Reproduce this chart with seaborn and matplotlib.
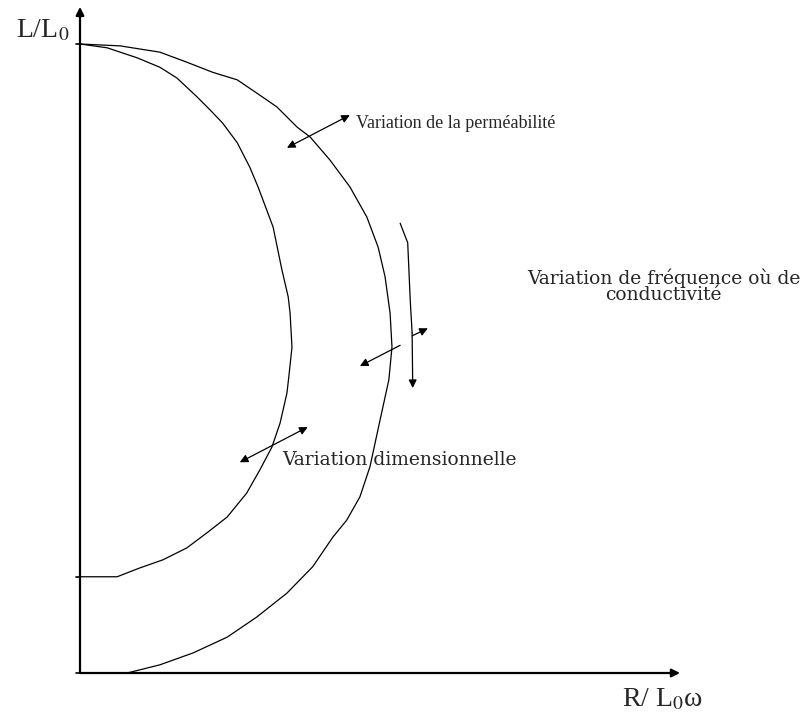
import numpy as np
import pandas as pd
import seaborn as sns
import matplotlib.pyplot as plt

# courbes (R/L0w, L/L0)
inner_x = [0, 0.043, 0.091, 0.127, 0.154, 0.186, 0.207, 0.227, 0.250, 0.270, 0.283,
           0.307, 0.321, 0.331, 0.334, 0.337, 0.332, 0.329, 0.318, 0.305, 0.286,
           0.265, 0.234, 0.202, 0.170, 0.132, 0.095, 0.059, 0]
inner_y = [1.000, 0.994, 0.978, 0.963, 0.946, 0.916, 0.895, 0.874, 0.843, 0.804, 0.773,
           0.709, 0.641, 0.598, 0.572, 0.518, 0.471, 0.445, 0.397, 0.359, 0.323,
           0.286, 0.248, 0.223, 0.199, 0.180, 0.167, 0.153, 0.153]

outer_x = [0, 0.064, 0.127, 0.170, 0.211, 0.250, 0.281, 0.313, 0.345, 0.366, 0.397,
           0.429, 0.456, 0.474, 0.485, 0.493, 0.496, 0.491, 0.477, 0.461, 0.445,
           0.424, 0.402, 0.370, 0.329, 0.281, 0.234, 0.180, 0.127, 0.075]
outer_y = [1.000, 0.997, 0.987, 0.971, 0.955, 0.943, 0.922, 0.900, 0.868, 0.852, 0.816,
           0.773, 0.725, 0.677, 0.630, 0.572, 0.518, 0.466, 0.402, 0.328, 0.280,
           0.243, 0.216, 0.169, 0.127, 0.089, 0.057, 0.032, 0.013, 0.000]

# trait de la variation de fréquence
freq_x = [0.509, 0.521, 0.525, 0.528, 0.529]
freq_y = [0.715, 0.684, 0.593, 0.541, 0.453]

# flèches (départ, arrivée)
perm_arrow = [(0.329, 0.835), (0.429, 0.887)]
dim_arrow = [(0.254, 0.335), (0.362, 0.391)]
cond_arrow = [(0.509, 0.521), (0.445, 0.488)]
small_arrow = [(0.528, 0.536), (0.553, 0.548)]

ticks_y = [1.0, 0.153, 0.0]
x_end = 0.954
y_end = 1.059

df_in = pd.DataFrame({"x": inner_x, "y": inner_y})
df_out = pd.DataFrame({"x": outer_x, "y": outer_y})
df_freq = pd.DataFrame({"x": freq_x[:-1], "y": freq_y[:-1]})

sns.set_style("white")
plt.rcParams["mathtext.fontset"] = "stix"

fig = plt.figure(figsize=(8.1, 7.15), dpi=100)
ax = fig.add_axes([0, 0, 1, 1])
ax.set_xlim(-80 / 629, 730 / 629)
ax.set_ylim(-42 / 629, 673 / 629)
ax.axis("off")

for d in (df_in, df_out, df_freq):
    sns.lineplot(data=d, x="x", y="y", sort=False, estimator=None,
                 color="black", lw=0.9, ax=ax)

head = dict(color="black", lw=0.9, shrinkA=0, shrinkB=0, mutation_scale=12)

# axes avec flèches
ax.annotate("", xy=(x_end, 0), xytext=(0, 0),
            arrowprops=dict(arrowstyle="-|>", **{**head, "lw": 1.6}))
ax.annotate("", xy=(0, y_end), xytext=(0, 0),
            arrowprops=dict(arrowstyle="-|>", **{**head, "lw": 1.6}))
for t in ticks_y:
    ax.plot([-0.006, 0], [t, t], color="black", lw=1.2)

ax.annotate("", xy=(freq_x[-1], freq_y[-1]), xytext=(freq_x[-2], freq_y[-2]),
            arrowprops=dict(arrowstyle="-|>", **head))
ax.annotate("", xy=perm_arrow[1], xytext=perm_arrow[0],
            arrowprops=dict(arrowstyle="<|-|>", **head))
ax.annotate("", xy=dim_arrow[1], xytext=dim_arrow[0],
            arrowprops=dict(arrowstyle="<|-|>", **head))
ax.annotate("", xy=cond_arrow[1], xytext=cond_arrow[0],
            arrowprops=dict(arrowstyle="-|>", **head))
ax.annotate("", xy=small_arrow[1], xytext=small_arrow[0],
            arrowprops=dict(arrowstyle="-|>", **head))

ax.text(0.439, 0.874, "Variation de la perméabilité", family="Liberation Serif",
        fontsize=13, ha="left", va="center")
ax.text(0.928, 0.615, "Variation de fréquence où de\nconductivité", family="DejaVu Serif",
        fontsize=13.5, ha="center", va="center", multialignment="center", linespacing=0.85)
ax.text(0.321, 0.339, "Variation dimensionnelle", family="DejaVu Serif",
        fontsize=13.5, ha="left", va="center")
ax.text(-0.059, 1.022, r"L/L$_0$", family="Liberation Serif", fontsize=20,
        ha="center", va="center")
ax.text(0.925, -0.043, r"R/ L$_0$ω", family="Liberation Serif", fontsize=20,
        ha="center", va="center")

fig.savefig("out.png", dpi=100)
